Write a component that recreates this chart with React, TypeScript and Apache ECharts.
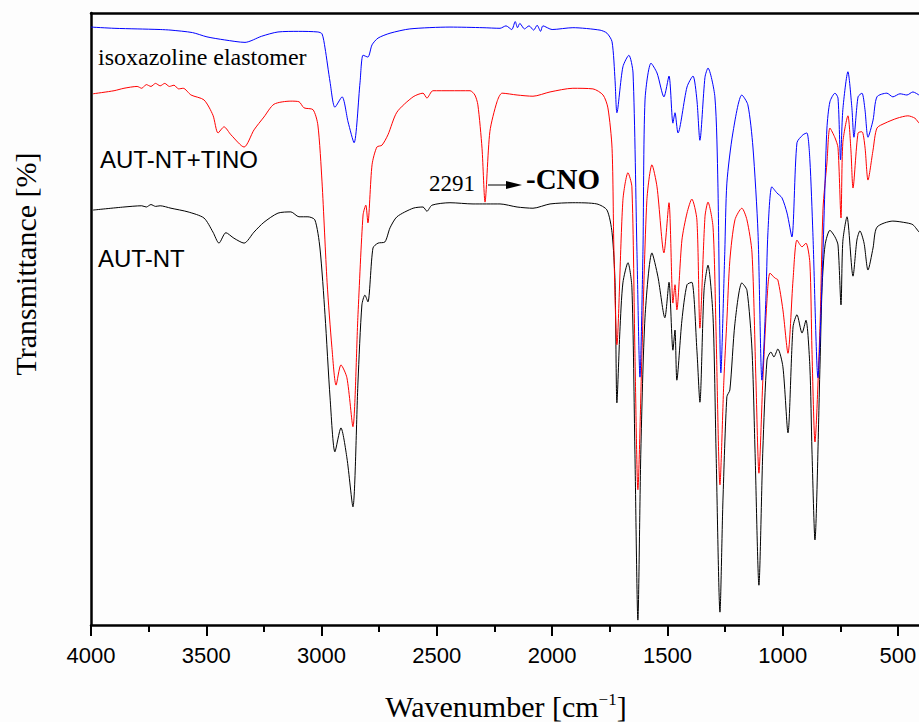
import React, { useEffect, useRef } from "react";
import * as echarts from "echarts";

// x-axis tick labels (wavenumber, cm-1)
const MAJOR_TICKS = [4000, 3500, 3000, 2500, 2000, 1500, 1000, 500];
const MINOR_TICKS = [3750, 3250, 2750, 2250, 1750, 1250, 750];

const SERIES_NAMES = ["isoxazoline elastomer", "AUT-NT+TINO", "AUT-NT"];

// [wavenumber, transmittance (arb. %)]
const isoxazolineData = [
  [4000, 97.7], [3900, 97.5], [3800, 97.4], [3700, 97.3], [3653, 97.2], [3560, 96.8], [3497, 96.1],
  [3420, 95.6], [3332, 95.2], [3260, 96.2], [3189, 96.9], [3100, 97.0], [3016, 96.9], [2998, 96.6],
  [2985, 94.3], [2963, 88.7], [2942, 84.6], [2911, 86.3], [2885, 82.2], [2859, 78.8], [2833, 88.7],
  [2820, 93.1], [2799, 92.8], [2781, 94.8], [2755, 95.9], [2703, 96.7], [2617, 97.4], [2443, 97.7],
  [2300, 97.6], [2226, 97.5], [2200, 97.9], [2175, 97.3], [2160, 98.6], [2150, 97.6], [2140, 98.3],
  [2120, 97.4], [2100, 97.9], [2080, 97.2], [2065, 98.0], [2050, 97.0], [2040, 97.9], [2000, 97.3],
  [1910, 97.6], [1792, 97.2], [1762, 96.7], [1740, 95.3], [1727, 89.0], [1719, 83.7], [1693, 91.2],
  [1667, 93.1], [1649, 90.2], [1632, 61.0], [1619, 40.5], [1606, 61.0], [1597, 85.8], [1571, 91.8],
  [1545, 90.2], [1515, 86.3], [1493, 89.7], [1476, 82.0], [1467, 83.7], [1454, 80.4], [1415, 87.9],
  [1389, 89.7], [1372, 85.8], [1359, 79.2], [1337, 89.5], [1324, 91.0], [1294, 86.3], [1281, 72.2],
  [1268, 41.2], [1251, 61.0], [1242, 72.2], [1216, 80.4], [1177, 86.6], [1151, 85.0], [1129, 78.1],
  [1107, 64.1], [1090, 40.0], [1073, 53.0], [1064, 64.1], [1047, 71.6], [1025, 70.6], [1003, 69.8],
  [981, 67.3], [960, 63.4], [938, 78.8], [912, 80.1], [895, 80.4], [882, 76.0], [869, 64.1],
  [847, 40.4], [829, 56.4], [817, 71.1], [808, 81.2], [795, 85.5], [773, 86.9], [760, 86.1],
  [749, 76.0], [739, 84.2], [717, 90.4], [700, 84.6], [691, 79.7], [673, 86.3], [656, 86.9],
  [643, 84.2], [630, 79.7], [608, 82.5], [591, 86.3], [548, 86.9], [522, 86.3], [491, 86.8],
  [461, 86.6], [435, 87.1], [409, 86.6],
];

const tinoData = [
  [3991, 86.8], [3900, 87.3], [3857, 87.7], [3800, 88.0], [3780, 87.7], [3760, 88.3], [3740, 88.0],
  [3720, 88.5], [3700, 88.1], [3680, 88.5], [3660, 88.0], [3640, 88.2], [3620, 87.6], [3600, 87.7],
  [3566, 86.6], [3510, 85.8], [3471, 83.3], [3449, 80.4], [3423, 81.4], [3393, 80.1], [3336, 78.1],
  [3293, 80.9], [3250, 83.0], [3206, 85.1], [3133, 85.6], [3098, 85.5], [3076, 84.5], [3037, 84.2],
  [3016, 81.7], [2998, 72.4], [2976, 56.0], [2955, 45.3], [2937, 39.2], [2916, 42.5], [2890, 40.4],
  [2864, 32.4], [2842, 50.7], [2820, 67.0], [2808, 68.6], [2799, 65.7], [2781, 75.2], [2760, 78.1],
  [2738, 78.4], [2712, 80.1], [2673, 83.8], [2603, 86.3], [2560, 86.9], [2543, 86.1], [2517, 87.3],
  [2443, 87.3], [2356, 87.3], [2335, 86.6], [2322, 85.0], [2304, 77.9], [2291, 69.1], [2270, 80.6],
  [2239, 85.5], [2217, 86.9], [2152, 86.6], [2083, 86.4], [2009, 87.1], [1910, 87.7], [1823, 87.6],
  [1779, 86.6], [1758, 84.5], [1740, 77.9], [1732, 61.3], [1719, 45.8], [1693, 69.4], [1671, 73.9],
  [1654, 71.6], [1641, 44.9], [1628, 22.1], [1610, 44.9], [1589, 69.4], [1567, 75.2], [1545, 71.6],
  [1515, 60.8], [1493, 69.0], [1476, 52.6], [1467, 55.6], [1459, 51.5], [1437, 62.9], [1415, 67.3],
  [1394, 69.6], [1372, 66.2], [1359, 48.5], [1337, 66.7], [1324, 69.1], [1302, 65.0], [1289, 48.0],
  [1272, 22.9], [1255, 40.0], [1242, 49.8], [1229, 59.6], [1207, 66.2], [1177, 68.1], [1155, 66.2],
  [1133, 60.8], [1116, 40.0], [1103, 24.8], [1086, 40.0], [1068, 53.1], [1055, 57.5], [1034, 56.7],
  [1021, 56.4], [999, 51.5], [977, 44.4], [955, 56.4], [938, 62.9], [916, 61.8], [899, 62.4],
  [882, 59.2], [873, 45.0], [860, 29.9], [838, 48.9], [825, 68.0], [808, 75.5], [795, 81.2],
  [773, 79.6], [760, 78.0], [747, 66.5], [739, 78.8], [717, 83.2], [704, 77.6], [695, 71.4],
  [673, 80.4], [656, 80.6], [643, 78.1], [630, 72.7], [608, 77.6], [591, 81.2], [556, 82.0],
  [504, 82.8], [457, 83.2], [426, 82.8], [409, 82.0],
];

const autNtData = [
  [3991, 67.8], [3857, 68.3], [3780, 68.5], [3760, 68.3], [3740, 68.7], [3720, 68.4], [3700, 68.5],
  [3653, 68.1], [3579, 67.5], [3510, 66.5], [3471, 64.2], [3445, 62.4], [3415, 64.1], [3380, 63.2],
  [3336, 62.4], [3293, 64.2], [3250, 65.8], [3189, 67.3], [3133, 67.5], [3098, 66.7], [3059, 66.7],
  [3029, 66.2], [3007, 61.6], [2985, 50.7], [2963, 37.1], [2942, 28.3], [2916, 32.2], [2890, 27.3],
  [2864, 19.3], [2842, 39.7], [2825, 52.3], [2812, 53.9], [2799, 52.8], [2777, 61.6], [2755, 62.4],
  [2725, 62.6], [2703, 64.9], [2673, 66.7], [2603, 68.1], [2560, 68.3], [2543, 67.6], [2521, 68.6],
  [2443, 69.0], [2343, 68.8], [2226, 68.8], [2152, 68.3], [2083, 68.1], [2009, 68.8], [1910, 69.0],
  [1806, 68.8], [1762, 67.8], [1740, 64.1], [1727, 55.9], [1719, 36.3], [1706, 48.0], [1693, 55.9],
  [1671, 59.2], [1654, 55.2], [1641, 28.6], [1628, 0.8], [1615, 28.6], [1597, 50.3], [1567, 60.8],
  [1541, 56.9], [1511, 50.2], [1493, 56.0], [1476, 44.9], [1467, 48.2], [1459, 40.0], [1437, 49.8],
  [1415, 55.6], [1394, 56.0], [1372, 44.9], [1359, 36.4], [1341, 54.7], [1324, 58.8], [1302, 50.3],
  [1289, 28.6], [1272, 2.1], [1259, 20.4], [1242, 37.3], [1229, 38.4], [1207, 49.3], [1177, 55.9],
  [1155, 54.7], [1133, 44.9], [1120, 28.6], [1103, 6.5], [1086, 28.6], [1068, 43.3], [1051, 44.6],
  [1038, 43.8], [1021, 45.1], [999, 42.2], [977, 31.4], [955, 48.7], [938, 50.7], [916, 47.7],
  [899, 49.8], [882, 42.2], [873, 28.6], [860, 13.9], [838, 42.5], [829, 55.2], [816, 62.1],
  [795, 64.5], [773, 63.4], [760, 62.1], [747, 52.3], [739, 62.7], [721, 66.7], [695, 57.0],
  [678, 62.9], [665, 64.4], [647, 62.4], [630, 58.0], [608, 61.6], [591, 65.0], [522, 66.0],
  [461, 65.7], [435, 65.4], [409, 64.2],
];

const SERIF = "'Liberation Serif', 'Times New Roman', serif";
const SANS = "'Liberation Sans', Arial, sans-serif";

export default function App() {
  const ref = useRef<HTMLDivElement>(null);

  useEffect(() => {
    document.body.style.margin = "0";
    const chart = echarts.init(ref.current!, null, { renderer: "svg" });
    const baseX = {
      type: "value",
      inverse: true,
      min: 400,
      max: 4000,
      splitLine: { show: false },
    };
    chart.setOption({
      animation: false,
      backgroundColor: "#fdfdfd",
      grid: {
        left: 91,
        right: -2,
        top: 13,
        bottom: 97,
        containLabel: false,
        outerBoundsMode: "none",
      },
      xAxis: [
        {
          ...baseX,
          position: "bottom",
          axisLine: { show: true, lineStyle: { color: "#000", width: 2.5 } },
          axisTick: {
            show: true,
            customValues: MAJOR_TICKS,
            length: 11,
            lineStyle: { color: "#000", width: 2 },
          },
          axisLabel: {
            show: true,
            customValues: MAJOR_TICKS,
            formatter: (v: number) => String(v),
            fontFamily: SANS,
            fontSize: 22,
            color: "#000",
            margin: 19,
          },
          name: "{a|Wavenumber [cm}{s|−1}{a|]}",
          nameLocation: "middle",
          nameGap: 66,
          nameTextStyle: {
            rich: {
              a: { fontFamily: SERIF, fontSize: 30, color: "#000" },
              s: { fontFamily: SERIF, fontSize: 17, color: "#000", verticalAlign: "top", padding: [0, 0, 12, 0] },
            },
          },
        },
        {
          ...baseX,
          position: "bottom",
          axisLine: { show: false },
          axisTick: {
            show: true,
            customValues: MINOR_TICKS,
            length: 7,
            lineStyle: { color: "#000", width: 2 },
          },
          axisLabel: { show: false },
        },
        {
          ...baseX,
          position: "top",
          axisLine: { show: true, lineStyle: { color: "#000", width: 2.5 } },
          axisTick: { show: false },
          axisLabel: { show: false },
        },
      ],
      yAxis: {
        type: "value",
        min: 0,
        max: 100,
        axisLine: { show: true, lineStyle: { color: "#000", width: 2.5 } },
        axisTick: { show: false },
        axisLabel: { show: false },
        splitLine: { show: false },
      },
      series: [
        { name: SERIES_NAMES[2], data: autNtData, color: "#000000" },
        { name: SERIES_NAMES[1], data: tinoData, color: "#ff0000" },
        { name: SERIES_NAMES[0], data: isoxazolineData, color: "#0000ff" },
      ].map((s) => ({
        type: "line",
        xAxisIndex: 0,
        yAxisIndex: 0,
        name: s.name,
        data: s.data,
        showSymbol: false,
        smooth: 0.25,
        lineStyle: { color: s.color, width: 1 },
        itemStyle: { color: s.color },
      })),
      graphic: [
        {
          type: "text",
          x: 25,
          y: 264,
          rotation: Math.PI / 2,
          style: {
            text: "Transmittance [%]",
            font: `30px ${SERIF}`,
            fill: "#000",
            align: "center",
            verticalAlign: "middle",
          },
        },
        {
          type: "text",
          x: 98,
          y: 57,
          style: { text: SERIES_NAMES[0], font: `24px ${SERIF}`, fill: "#000", align: "left", verticalAlign: "middle" },
        },
        {
          type: "text",
          x: 100,
          y: 159,
          style: { text: SERIES_NAMES[1], font: `24px ${SANS}`, fill: "#000", align: "left", verticalAlign: "middle" },
        },
        {
          type: "text",
          x: 98,
          y: 258,
          style: { text: SERIES_NAMES[2], font: `24px ${SANS}`, fill: "#000", align: "left", verticalAlign: "middle" },
        },
        {
          type: "text",
          x: 429,
          y: 183,
          style: { text: "2291", font: `23px ${SERIF}`, fill: "#000", align: "left", verticalAlign: "middle" },
        },
        {
          type: "line",
          shape: { x1: 488, y1: 185, x2: 508, y2: 185 },
          style: { stroke: "#000", lineWidth: 1 },
        },
        {
          type: "polygon",
          shape: { points: [[506, 181], [522, 185], [506, 189]] },
          style: { fill: "#000" },
        },
        {
          type: "text",
          x: 526,
          y: 179,
          style: { text: "-CNO", font: `bold 29px ${SERIF}`, fill: "#000", align: "left", verticalAlign: "middle" },
        },
      ],
    });
    return () => chart.dispose();
  }, []);

  return <div ref={ref} style={{ width: 919, height: 722 }} />;
}
